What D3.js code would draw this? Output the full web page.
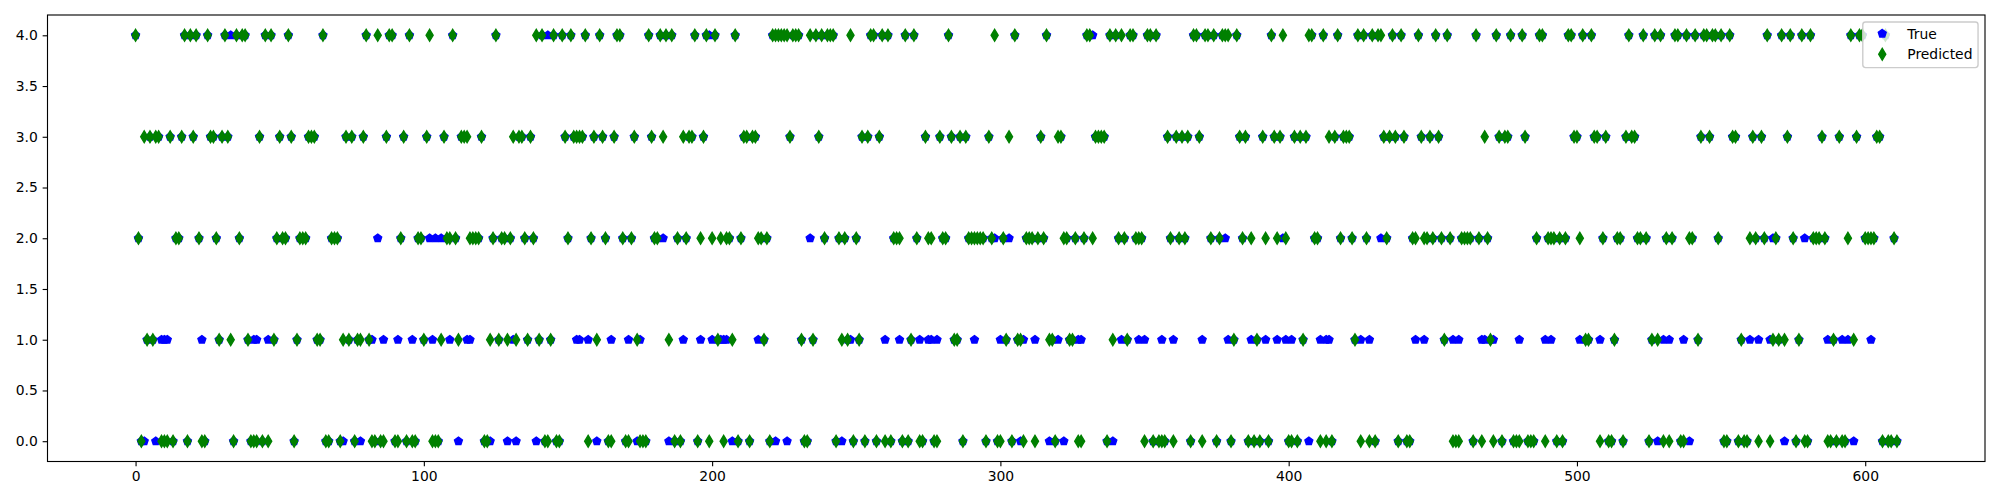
<!DOCTYPE html>
<html>
<head>
<meta charset="utf-8">
<script src="https://cdn.jsdelivr.net/npm/d3@7"></script>
<style>
  html, body { margin: 0; padding: 0; background: #ffffff; }
  svg { display: block; }
  text { font-family: "DejaVu Sans", sans-serif; }
</style>
</head>
<body>
<svg id="chart" width="2000" height="500"></svg>
<script>
// ---------------- data ----------------
const seriesNames = ["True", "Predicted"];
const xTicks = [0, 100, 200, 300, 400, 500, 600];
const yTicks = [0.0, 0.5, 1.0, 1.5, 2.0, 2.5, 3.0, 3.5, 4.0];

const trueVals = [
4,2,0,0,1,3,1,0,3,1, 1,1,3,0,2,2,3,4,0,4, 3,4,2,1,0,4,3,3,2,1, 3,4,3,4,0,4,2,4,4,1,
0,1,1,3,0,4,1,4,1,2, 3,2,2,4,3,0,1,2,2,2, 3,3,3,1,1,4,0,0,2,2, 2,0,0,3,1,3,0,1,0,3,
4,1,1,0,2,0,1,3,4,4, 0,1,2,3,0,4,1,0,2,2, 1,3,2,1,2,0,2,3,2,1, 4,2,0,3,3,1,1,2,2,2,
3,0,0,0,2,4,1,2,2,0, 2,1,0,3,3,2,1,3,2,0, 1,4,0,4,1,4,0,0,4,3, 2,4,3,1,1,3,4,1,2,3,
0,4,3,2,0,1,3,4,4,2, 0,1,2,3,0,1,0,0,4,3, 2,2,4,2,4,0,4,0,2,0, 1,2,3,3,4,0,1,3,4,4,
1,4,1,1,1,1,2,0,4,0, 2,3,3,0,3,3,1,2,1,2, 0,4,0,4,4,4,0,3,4,4, 4,1,0,0,2,1,4,3,4,2,
4,4,4,0,2,0,2,1,1,0, 2,1,3,0,3,4,4,0,3,4, 1,4,0,2,2,1,0,4,0,1, 4,2,1,0,3,1,1,0,1,3,
2,2,4,3,1,1,3,0,3,2, 2,1,2,2,2,0,3,2,2,0, 1,2,1,2,0,4,1,0,1,2, 2,2,1,2,3,2,4,0,1,0,
1,3,0,2,1,1,2,1,1,2, 4,4,4,3,3,3,3,0,4,0, 4,2,1,2,1,4,4,2,1,2, 1,4,4,0,4,0,1,0,3,2,
1,3,2,3,2,3,0,4,4,3, 1,4,4,2,4,0,2,4,2,1, 0,1,4,3,2,3,0,1,0,1, 0,3,1,0,4,3,1,3,2,1,
0,1,3,0,3,1,3,0,4,2, 2,1,4,1,1,0,3,4,2,3, 3,3,2,1,4,1,4,2,1,4, 0,4,2,3,2,3,4,3,0,4,
3,0,0,2,1,4,3,1,2,3, 2,4,3,2,1,4,2,1,0,1, 2,2,2,2,0,4,2,1,1,2, 1,1,4,3,0,3,3,4,0,0,
1,4,3,0,0,0,2,4,4,1, 2,1,2,0,2,0,2,4,4,3, 3,1,4,1,1,4,3,3,1,2, 3,0,0,1,2,2,0,3,4,3,
3,2,2,4,2,0,1,4,0,4, 1,2,1,2,4,4,0,1,4,0, 2,4,1,3,4,4,3,4,4,2, 4,0,0,4,3,3,0,1,0,0,
1,3,2,1,3,2,4,1,2,2, 1,4,0,3,4,2,0,1,4,2, 0,4,2,2,2,3,2,1,0,1, 0,3,1,0,1,4,0,3,4,4,
2,2,1,2,3,3,0,4,0,0, 2,0
];

const predVals = [
4,2,0,3,1,3,1,3,3,0, 0,0,3,0,2,2,3,4,0,4, 3,4,2,0,0,4,3,3,2,1, 3,4,3,1,0,4,2,4,4,1,
0,0,0,3,0,4,0,4,1,2, 3,2,2,4,3,0,1,2,2,2, 3,3,3,1,1,4,0,0,2,2, 2,0,1,3,1,3,0,1,1,3,
4,1,0,0,4,0,0,3,4,4, 0,0,2,3,0,4,0,0,2,2, 1,3,4,0,0,0,1,3,2,2, 4,2,1,3,3,3,2,2,2,2,
3,0,0,1,2,4,1,2,2,1, 2,3,1,3,3,2,1,3,2,4, 1,4,0,0,1,4,0,0,4,3, 2,4,3,3,3,3,4,0,2,3,
1,4,3,2,0,0,3,4,4,2, 0,0,2,3,1,0,0,0,4,3, 2,2,4,3,4,1,4,0,2,0, 3,2,3,3,4,0,2,3,4,0,
2,4,1,2,0,2,2,1,4,0, 2,3,3,0,3,3,2,2,1,2, 0,4,4,4,4,4,4,3,4,4, 4,1,0,0,4,1,4,3,4,2,
4,4,4,0,2,1,2,1,4,0, 2,1,3,0,3,4,4,0,3,4, 0,4,0,2,2,2,0,4,0,1, 4,2,0,0,3,2,2,0,0,3,
2,2,4,3,1,1,3,0,3,2, 2,2,2,2,2,0,3,2,4,0, 0,2,1,3,0,4,1,1,0,2, 2,2,0,2,3,2,4,1,1,0,
3,3,2,2,1,1,2,0,0,2, 4,4,2,3,3,3,3,0,4,1, 4,2,4,2,1,4,4,2,2,2, 0,4,4,0,4,0,0,0,3,2,
0,3,2,3,2,3,0,4,4,3, 0,4,4,2,4,0,2,4,4,4, 0,1,4,3,2,3,0,2,0,1, 0,3,2,0,4,3,2,3,4,2,
0,0,3,0,3,1,3,4,4,2, 2,0,4,0,3,0,3,4,2,3, 3,3,2,1,4,0,4,2,0,4, 0,4,4,3,2,3,4,3,0,4,
3,0,0,2,2,4,3,2,2,3, 2,4,3,2,1,4,2,0,0,0, 2,2,2,2,0,4,2,0,3,2, 1,0,4,3,0,3,3,4,0,0,
0,4,3,0,0,0,2,4,4,0, 2,2,2,0,2,0,2,4,4,3, 3,2,4,1,1,4,3,3,0,2, 3,0,0,1,2,2,0,3,4,3,
3,2,2,4,2,0,1,4,1,4, 0,2,0,2,4,4,0,0,4,2, 2,4,1,3,4,4,3,4,4,2, 4,0,0,4,3,3,0,1,0,0,
2,3,2,0,3,2,4,0,1,2, 1,4,1,3,4,2,0,1,4,0, 0,4,2,2,2,3,2,0,0,1, 0,3,0,0,2,4,1,3,4,4,
2,2,2,2,3,3,0,4,0,0, 2,0
];

// ---------------- layout ----------------
const svg = d3.select("#chart");
const W = 2000, H = 500;
const plot = { left: 47.5, right: 1985, top: 15, bottom: 461.5 };
const FS = 13.9;          // 10pt at 100 dpi
const PT = 100 / 72;
const n = predVals.length;
const xPad = (n - 1) * 0.05;

const x = d3.scaleLinear().domain([0 - xPad, (n - 1) + xPad]).range([plot.left, plot.right]);
const y = d3.scaleLinear().domain([-0.2, 4.2]).range([plot.bottom, plot.top]);

svg.append("rect").attr("width", W).attr("height", H).attr("fill", "#ffffff");

// marker shapes (matplotlib 'p' and 'd', markersize 6)
const ms = 6 * PT;
const dh = 0.7071 * ms, dw = 0.6 * 0.7071 * ms;
const diamondPath = `M0,${-dh}L${dw},0L0,${dh}L${-dw},0Z`;
const pr = 0.5 * ms;
const pentPath = d3.range(5).map(k => {
  const a = -Math.PI / 2 + k * 2 * Math.PI / 5;
  return (k ? "L" : "M") + (pr * Math.cos(a)).toFixed(3) + "," + (pr * Math.sin(a)).toFixed(3);
}).join("") + "Z";

const blue = "#0000ff", green = "#008000";

// True series
svg.append("g").selectAll("path").data(trueVals).join("path")
  .attr("d", pentPath)
  .attr("transform", (d, i) => `translate(${x(i)},${y(d)})`)
  .attr("fill", blue).attr("stroke", blue).attr("stroke-width", PT)
  .attr("stroke-linejoin", "miter");

// Predicted series
svg.append("g").selectAll("path").data(predVals).join("path")
  .attr("d", diamondPath)
  .attr("transform", (d, i) => `translate(${x(i)},${y(d)})`)
  .attr("fill", green).attr("stroke", green).attr("stroke-width", PT)
  .attr("stroke-linejoin", "miter");

// axes
const tickLen = 3.5 * PT, tickPad = 3.5 * PT;
const xAxis = svg.append("g").attr("transform", `translate(0,${plot.bottom})`)
  .call(d3.axisBottom(x).tickValues(xTicks).tickSize(tickLen).tickPadding(tickPad).tickFormat(d3.format("d")));
const yAxis = svg.append("g").attr("transform", `translate(${plot.left},0)`)
  .call(d3.axisLeft(y).tickValues(yTicks).tickSize(tickLen).tickPadding(tickPad).tickFormat(d3.format(".1f")));
[xAxis, yAxis].forEach(g => {
  g.select(".domain").remove();
  g.selectAll(".tick line").attr("stroke", "#000").attr("stroke-width", 0.8 * PT);
  g.selectAll(".tick text").attr("fill", "#000").style("font-size", FS + "px")
    .style("font-family", "'DejaVu Sans', sans-serif");
});

// frame
svg.append("rect")
  .attr("x", plot.left).attr("y", plot.top)
  .attr("width", plot.right - plot.left).attr("height", plot.bottom - plot.top)
  .attr("fill", "none").attr("stroke", "#000").attr("stroke-width", 0.8 * PT);

// legend (upper right)
const pad = 0.4 * FS, handleLen = 2.0 * FS, textPad = 0.8 * FS, axPad = 0.5 * FS;
const rowH = 13.8, rowGap = 0.5 * FS;
const lg = svg.append("g");
const box = lg.append("rect");
const labels = lg.selectAll("text").data(seriesNames).join("text")
  .text(d => d).style("font-size", FS + "px").attr("fill", "#000")
  .attr("dominant-baseline", "central");
let tw = 0;
labels.each(function () { tw = Math.max(tw, this.getComputedTextLength()); });
const bw = pad + handleLen + textPad + tw + pad;
const bh = pad * 2 + rowH * 2 + rowGap;
const bx = plot.right - axPad - bw, by = plot.top + axPad;
box.attr("x", bx).attr("y", by).attr("width", bw).attr("height", bh)
  .attr("rx", 0.2 * FS).attr("ry", 0.2 * FS)
  .attr("fill", "#ffffff").attr("fill-opacity", 0.8)
  .attr("stroke", "#cccccc").attr("stroke-width", PT);
const rowCy = i => by + pad + rowH / 2 + i * (rowH + rowGap) - 0.8;
labels.attr("x", bx + pad + handleLen + textPad).attr("y", (d, i) => rowCy(i));
const hx = bx + pad + handleLen / 2;
lg.append("path").attr("d", pentPath).attr("transform", `translate(${hx},${rowCy(0)})`)
  .attr("fill", blue).attr("stroke", blue).attr("stroke-width", PT);
lg.append("path").attr("d", diamondPath).attr("transform", `translate(${hx},${rowCy(1)})`)
  .attr("fill", green).attr("stroke", green).attr("stroke-width", PT);
</script>
</body>
</html>
